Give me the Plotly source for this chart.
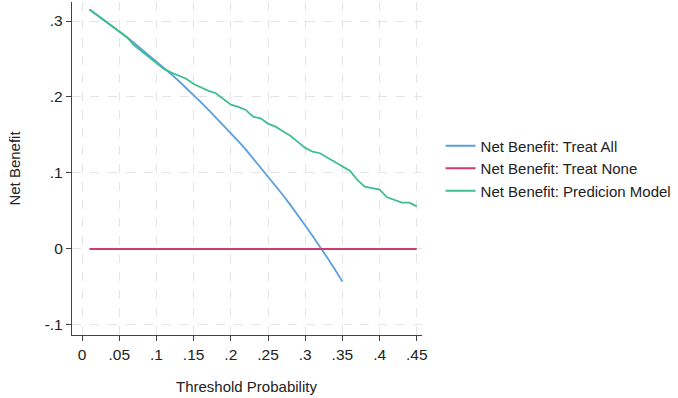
import plotly.graph_objects as go

# Threshold probabilities
thresholds = [0.01, 0.02, 0.03, 0.04, 0.05, 0.06, 0.07, 0.08, 0.09, 0.10,
              0.11, 0.12, 0.13, 0.14, 0.15, 0.16, 0.17, 0.18, 0.19, 0.20,
              0.21, 0.22, 0.23, 0.24, 0.25, 0.26, 0.27, 0.28, 0.29, 0.30,
              0.31, 0.32, 0.33, 0.34, 0.35, 0.36, 0.37, 0.38, 0.39, 0.40,
              0.41, 0.42, 0.43, 0.44, 0.45]

# Net Benefit: Treat All (drawn up to 0.35)
treat_all = [0.315, 0.308, 0.301, 0.294, 0.286, 0.279, 0.271, 0.263, 0.255, 0.247,
             0.238, 0.230, 0.221, 0.212, 0.202, 0.193, 0.183, 0.173, 0.163, 0.153,
             0.142, 0.131, 0.119, 0.108, 0.096, 0.084, 0.071, 0.058, 0.045, 0.031,
             0.017, 0.003, -0.012, -0.027, -0.043]

# Net Benefit: Treat None
treat_none = [0.0] * 45

# Net Benefit: Prediction Model
model = [0.315, 0.308, 0.301, 0.294, 0.287, 0.279, 0.268, 0.260, 0.253, 0.245,
         0.237, 0.232, 0.228, 0.224, 0.217, 0.212, 0.208, 0.205, 0.197, 0.190,
         0.187, 0.183, 0.174, 0.172, 0.165, 0.161, 0.155, 0.149, 0.141, 0.133,
         0.128, 0.126, 0.120, 0.114, 0.108, 0.103, 0.091, 0.082, 0.080, 0.078,
         0.068, 0.064, 0.061, 0.061, 0.056]

x_tick_vals = [0, 0.05, 0.1, 0.15, 0.2, 0.25, 0.3, 0.35, 0.4, 0.45]
x_tick_text = ["0", ".05", ".1", ".15", ".2", ".25", ".3", ".35", ".4", ".45"]
y_tick_vals = [-0.1, 0, 0.1, 0.2, 0.3]
y_tick_text = ["-.1", "0", ".1", ".2", ".3"]

series_names = ["Net Benefit: Treat All", "Net Benefit: Treat None",
                "Net Benefit: Predicion Model"]
colors = ["#5b9ee0", "#cf3a72", "#3fbf8f"]

fig = go.Figure()
fig.add_trace(go.Scatter(x=thresholds[:len(treat_all)], y=treat_all, mode="lines",
                         name=series_names[0], line=dict(color=colors[0], width=1.8)))
fig.add_trace(go.Scatter(x=thresholds, y=treat_none, mode="lines",
                         name=series_names[1], line=dict(color=colors[1], width=1.8)))
fig.add_trace(go.Scatter(x=thresholds, y=model, mode="lines",
                         name=series_names[2], line=dict(color=colors[2], width=1.8)))

font_family = "Liberation Sans, Arial, sans-serif"
txt = "#222222"

fig.update_layout(
    width=678, height=398,
    margin=dict(l=72, r=255, t=2, b=63),
    paper_bgcolor="white", plot_bgcolor="white",
    font=dict(family=font_family, size=15, color=txt),
    showlegend=True,
    legend=dict(x=1.05, y=0.5, xanchor="left", yanchor="middle",
                font=dict(size=15, color=txt), bgcolor="rgba(0,0,0,0)",
                tracegroupgap=0),
    xaxis=dict(range=[-0.0135, 0.457], tickvals=x_tick_vals, ticktext=x_tick_text,
               showgrid=True, gridcolor="#e4e4e4", griddash="dash", gridwidth=1,
               showline=True, linecolor="#444444", linewidth=1.3,
               ticks="outside", ticklen=5, tickcolor="#444444", tickwidth=1.3,
               tickfont=dict(size=15.5, color=txt), zeroline=False),
    yaxis=dict(range=[-0.1132, 0.325], tickvals=y_tick_vals, ticktext=y_tick_text,
               showgrid=True, gridcolor="#e4e4e4", griddash="dash", gridwidth=1,
               showline=True, linecolor="#444444", linewidth=1.3,
               ticks="outside", ticklen=5, tickcolor="#444444", tickwidth=1.3,
               tickfont=dict(size=15.5, color=txt), zeroline=False,
               title=dict(text="Net Benefit", font=dict(size=15, color=txt),
                          standoff=20)),
    annotations=[dict(text="Threshold Probability", xref="paper", yref="paper",
                      x=0.4986, y=-0.156, xanchor="center", yanchor="middle",
                      showarrow=False, font=dict(size=15, color=txt))],
)

fig.write_html("out.html")
